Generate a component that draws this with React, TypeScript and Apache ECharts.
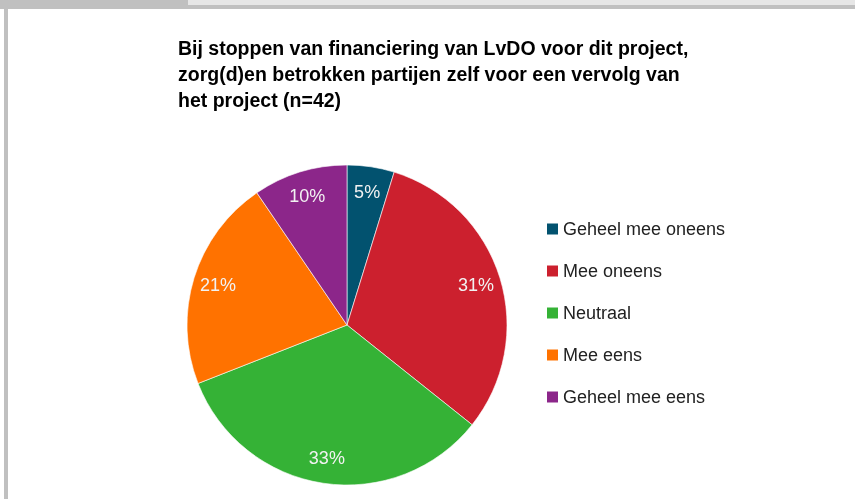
import React, { useEffect, useRef } from "react";
import * as echarts from "echarts";

const categories = ["Geheel mee oneens", "Mee oneens", "Neutraal", "Mee eens", "Geheel mee eens"];
const counts = [2, 13, 14, 9, 4];
const colors = ["#02526f", "#cc202e", "#35b236", "#ff7200", "#8c268a"];
const titleLines = [
  "Bij stoppen van financiering van LvDO voor dit project,",
  "zorg(d)en betrokken partijen zelf voor een vervolg van",
  "het project (n=42)",
];

export default function App() {
  const ref = useRef<HTMLDivElement>(null);
  useEffect(() => {
    if (!ref.current) return;
    const chart = echarts.init(ref.current, null, { renderer: "svg" });
    const data = categories.map((name, i) => ({ name, value: counts[i], itemStyle: { color: colors[i] } }));
    const total = counts.reduce((a, b) => a + b, 0);
    chart.setOption({
      animation: false,
      title: {
        text: titleLines.join("\n"),
        left: 178,
        top: 35,
        padding: 0,
        textStyle: { fontFamily: "Liberation Sans", fontWeight: "bold", fontSize: 19.5, lineHeight: 26, color: "#000" },
      },
      legend: {
        orient: "vertical",
        left: 547,
        top: 220,
        padding: 0,
        icon: "rect",
        itemWidth: 11,
        itemHeight: 11,
        itemGap: 24,
        itemStyle: { borderWidth: 0 },
        data: categories,
        textStyle: { fontFamily: "Liberation Sans", fontSize: 18, color: "#222", lineHeight: 18 },
      },
      graphic: [
        { type: "rect", shape: { x: 0, y: 0, width: 855, height: 9 }, style: { fill: "#e6e6e6" }, silent: true },
        { type: "rect", shape: { x: 0, y: 0, width: 188, height: 9 }, style: { fill: "#c0c0c0" }, silent: true },
        { type: "rect", shape: { x: 0, y: 5, width: 855, height: 4 }, style: { fill: "#c0c0c0" }, silent: true },
        { type: "rect", shape: { x: 4, y: 0, width: 4, height: 499 }, style: { fill: "#c0c0c0" }, silent: true },
      ],
      series: [
        {
          type: "pie",
          center: [347, 325],
          radius: [0, 160],
          startAngle: 90,
          clockwise: true,
          data,
          label: { show: false },
          labelLine: { show: false },
          itemStyle: { borderColor: "#ffffff", borderWidth: 0.6 },
          silent: true,
        },
        {
          type: "pie",
          center: [347, 325],
          radius: [104, 160],
          startAngle: 90,
          clockwise: true,
          silent: true,
          legendHoverLink: false,
          data: categories.map((name, i) => ({ name, value: counts[i], itemStyle: { color: "rgba(0,0,0,0)" } })),
          label: {
            show: true,
            position: "inside",
            formatter: (p: any) => Math.round((p.value / total) * 100) + "%",
            fontFamily: "Liberation Sans",
            fontSize: 18,
            color: "#f2f2f2",
          },
          labelLine: { show: false },
        },
      ],
    });
    return () => chart.dispose();
  }, []);
  return <div ref={ref} style={{ position: "fixed", left: 0, top: 0, width: 855, height: 499 }} />;
}
